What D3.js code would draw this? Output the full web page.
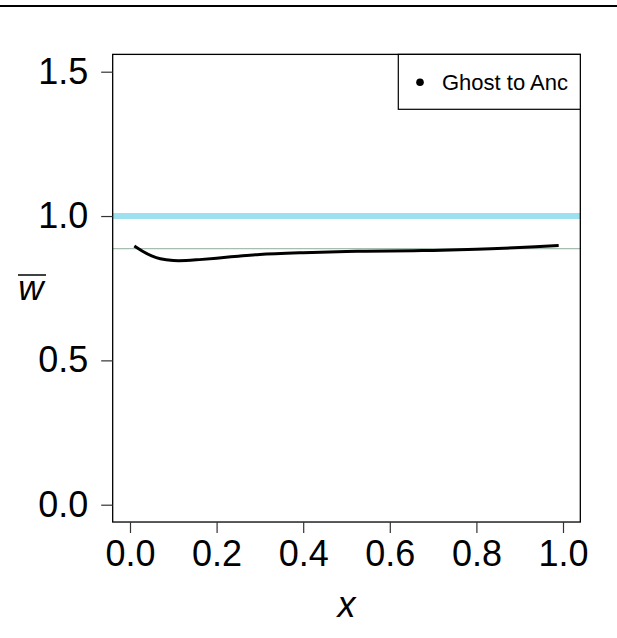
<!DOCTYPE html>
<html>
<head>
<meta charset="utf-8">
<script src="https://cdn.jsdelivr.net/npm/d3@7"></script>
<style>
  html, body { margin: 0; padding: 0; background: #fff; }
  svg { display: block; }
  text { font-family: "Liberation Sans", Arial, Helvetica, sans-serif; }
</style>
</head>
<body>
<div id="chart"></div>
<script>
// ---- data ----
const curveX = [0.01, 0.03, 0.05, 0.07, 0.10, 0.13, 0.16, 0.20, 0.25, 0.30, 0.40, 0.50, 0.60, 0.70, 0.80, 0.90, 0.99];
const curveY = [0.896, 0.877, 0.862, 0.852, 0.846, 0.846, 0.849, 0.854, 0.861, 0.867, 0.873, 0.877, 0.879, 0.881, 0.885, 0.891, 0.898];
const refLineBlue = 1.0;
const refLineGrey = 0.887;
const xTicks = [0.0, 0.2, 0.4, 0.6, 0.8, 1.0];
const yTicks = [0.0, 0.5, 1.0, 1.5];
const legendLabels = ["Ghost to Anc"];

(function () {
// ---- layout ----
const W = 617, H = 638;
const svg = d3.select("#chart").append("svg").attr("width", W).attr("height", H);

// top separator line
svg.append("line").attr("x1", 0).attr("x2", W).attr("y1", 6).attr("y2", 6)
  .attr("stroke", "#000").attr("stroke-width", 2);

const x = d3.scaleLinear().domain([0, 1]).range([130, 563]);
const y = d3.scaleLinear().domain([0, 1.5]).range([504.7, 71.7]);
const xPad = 0.04, yPad = 0.06;
const pL = x(-xPad), pR = x(1 + xPad), pT = y(1.5 + yPad), pB = y(-yPad);

const plot = svg.append("g");
svg.append("clipPath").attr("id", "clip").append("rect")
  .attr("x", pL).attr("y", pT).attr("width", pR - pL).attr("height", pB - pT);

const inner = plot.append("g").attr("clip-path", "url(#clip)");

inner.append("line").attr("x1", pL).attr("x2", pR)
  .attr("y1", y(refLineBlue)).attr("y2", y(refLineBlue))
  .attr("stroke", "#9de1f1").attr("stroke-width", 6);

inner.append("line").attr("x1", pL).attr("x2", pR)
  .attr("y1", y(refLineGrey)).attr("y2", y(refLineGrey))
  .attr("stroke", "#a9bcb2").attr("stroke-width", 1.2);

const pts = curveX.map((v, i) => [v, curveY[i]]);
inner.append("path").datum(pts)
  .attr("fill", "none").attr("stroke", "#000").attr("stroke-width", 3)
  .attr("d", d3.line().x(d => x(d[0])).y(d => y(d[1])).curve(d3.curveCatmullRom));

// box
plot.append("rect").attr("x", pL).attr("y", pT)
  .attr("width", pR - pL).attr("height", pB - pT)
  .attr("fill", "none").attr("stroke", "#000").attr("stroke-width", 1.3);

// axes
const xAxis = d3.axisBottom(x).tickValues(xTicks).tickFormat(d3.format(".1f"))
  .tickSize(11).tickPadding(7);
const gx = svg.append("g").attr("transform", `translate(0,${pB})`).call(xAxis);
gx.select(".domain").remove();
gx.selectAll(".tick line").attr("stroke", "#333").attr("stroke-width", 1.2);
gx.selectAll(".tick text").attr("font-size", 36).attr("fill", "#000")
  .attr("font-family", "Liberation Sans, Arial, sans-serif");

const yAxis = d3.axisLeft(y).tickValues(yTicks).tickFormat(d3.format(".1f"))
  .tickSize(11.5).tickPadding(13);
const gy = svg.append("g").attr("transform", `translate(${pL},0)`).call(yAxis);
gy.select(".domain").remove();
gy.selectAll(".tick line").attr("stroke", "#333").attr("stroke-width", 1.2);
gy.selectAll(".tick text").attr("font-size", 36).attr("fill", "#000")
  .attr("font-family", "Liberation Sans, Arial, sans-serif");

// axis titles
svg.append("text").attr("x", (x(0) + x(1)) / 2).attr("y", 617)
  .attr("text-anchor", "middle").attr("font-size", 36).attr("font-style", "italic")
  .text("x");

svg.append("text").attr("x", 31).attr("y", 300)
  .attr("text-anchor", "middle").attr("font-size", 35).attr("font-style", "italic")
  .text("w");
svg.append("line").attr("x1", 18).attr("x2", 46).attr("y1", 275).attr("y2", 275)
  .attr("stroke", "#000").attr("stroke-width", 1.5);

// legend
const lg = svg.append("g");
lg.append("rect").attr("x", 398.3).attr("y", pT).attr("width", pR - 398.3).attr("height", 109.3 - pT)
  .attr("fill", "#fff").attr("stroke", "#000").attr("stroke-width", 1.2);
legendLabels.forEach((lab, i) => {
  lg.append("circle").attr("cx", 420).attr("cy", 82.3 + i * 26).attr("r", 3.8).attr("fill", "#000");
  lg.append("text").attr("x", 442).attr("y", 90 + i * 26).attr("font-size", 22).text(lab);
});
})();
</script>
</body>
</html>
